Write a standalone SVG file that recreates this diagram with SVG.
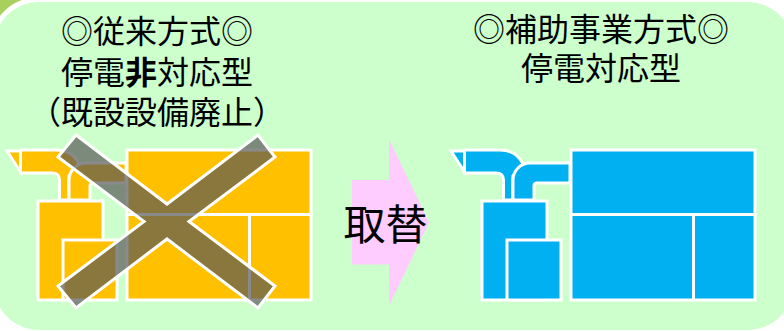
<svg xmlns="http://www.w3.org/2000/svg" width="784" height="331" viewBox="0 0 784 331">
<defs>
<style>
.t{font-family:"Noto Sans CJK JP","Noto Sans CJK SC",sans-serif;font-size:32px;fill:#000;text-anchor:middle}
.o{fill:#ffc000;stroke:#fff;stroke-width:3}
.b{fill:#00b0f0;stroke:#fff;stroke-width:3}
</style>
<g id="unit">
<path d="M7 151H20.500V172Z"/>
<path d="M20.500 150H56C68 150 76 156 80 166L69 176V200H59.500V180Q59.500 173 52 173H20.500Z"/>
<path d="M69 200V180A17 17 0 0 1 86 163H126V183H93Q90 183 90 186V200Z"/>
<rect x="38" y="201" width="65" height="99"/>
<rect x="63" y="240" width="54" height="60"/>
<rect x="127" y="150" width="184" height="64.500"/>
<rect x="127" y="214.500" width="122.500" height="85.500"/>
<rect x="249.500" y="214.500" width="61.500" height="85.500"/>
</g>
</defs>
<rect width="784" height="331" fill="#fff"/>
<rect width="40" height="30" fill="#a9d05f"/>
<rect y="300" width="40" height="31" fill="#c5da9e"/>
<rect x="-11" y="-3" width="900" height="400" rx="50" fill="#fff"/>
<rect x="-6" y="2" width="799" height="328" rx="45" fill="#ccffcc"/>
<g id="old-label">
<text class="t" x="157" y="43">◎従来方式◎</text>
<text class="t" x="157" y="84">停電<tspan font-weight="700">非</tspan>対応型</text>
<text class="t" x="157" y="124">（既設設備廃止）</text>
</g>
<g id="new-label">
<text class="t" x="601" y="41">◎補助事業方式◎</text>
<text class="t" x="601" y="80">停電対応型</text>
</g>
<g id="old-unit" class="o"><use href="#unit"/></g>
<g id="cross">
<path d="M76 135L167 204L258 135L275 157L189 221.500L275 286L258 308L167 239L76 308L58 286L144 221.500L58 157Z" fill="#595959" fill-opacity=".7" stroke="#fff" stroke-width="3"/>
</g>
<g id="arrow">
<path d="M352 180H389V139L429 222.500L389 306V264.500H352Z" fill="#ffccff"/>
<text x="385.500" y="240" font-family="Noto Sans CJK JP,sans-serif" font-size="42" fill="#000" text-anchor="middle">取替</text>
</g>
<g id="new-unit" class="b"><use href="#unit" x="444"/></g>
</svg>
